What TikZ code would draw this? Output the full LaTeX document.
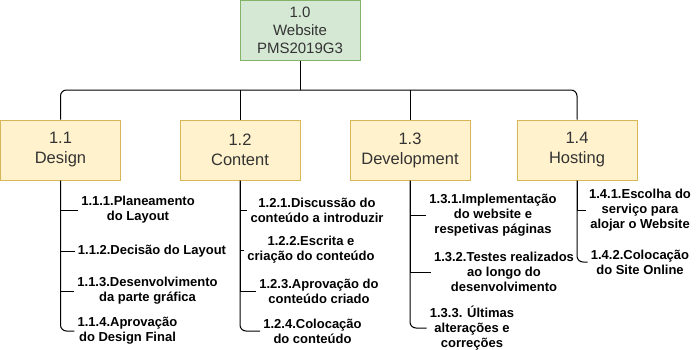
\documentclass[tikz,border=0pt]{standalone}
\usepackage{fontspec}
\setmainfont{Liberation Sans}

\definecolor{rootfill}{HTML}{D5E8D4}
\definecolor{rootline}{HTML}{82B366}
\definecolor{taskfill}{HTML}{FFF2CC}
\definecolor{taskline}{HTML}{D6B656}
\definecolor{boxtext}{HTML}{333333}

\tikzset{
    rootbox/.style={rectangle, draw=rootline, fill=rootfill, line width=1pt,
        minimum width=120pt, minimum height=60pt, align=center, text=boxtext,
        font=\fontsize{15}{18}\selectfont},
    taskbox/.style={rectangle, draw=taskline, fill=taskfill, line width=1pt,
        minimum width=120pt, minimum height=60pt, align=center, text=boxtext,
        font=\fontsize{16.5}{20}\selectfont},
    item/.style={align=center, inner xsep=3pt, inner ysep=0pt,
        font=\bfseries\fontsize{13}{15}\selectfont},
    link/.style={black, line width=1pt},
    lastlink/.style={link, rounded corners=6pt}
}

\begin{document}
\begin{tikzpicture}[x=1pt, y=-1pt]
    \useasboundingbox (0,0) rectangle (698,349);

    \node[rootbox] (W) at (300,30) {1.0\\Website\\PMS2019G3};

    \node[taskbox] (D) at (60.5,150) {1.1\\Design};
    \node[taskbox] (C) at (240,150) {1.2\\Content};
    \node[taskbox] (V) at (410,150) {1.3\\Development};
    \node[taskbox] (H) at (577,150) {1.4\\Hosting};

    % bus between the root and the four work packages
    \coordinate (bus) at (300,90);
    \draw[link] (W) -- (bus);
    \draw[lastlink] (bus) -| (D.north);
    \draw[link] (C.north) -- (C.north |- bus);
    \draw[link] (V.north) -- (V.north |- bus);
    \draw[lastlink] (bus) -| (H.north);

    % 1.1 Design
    \node[item] (d1) at (138,210) {1.1.1.Planeamento\\do Layout};
    \node[item] (d2) at (152,251) {1.1.2.Decisão do Layout};
    \node[item] (d3) at (147.5,291) {1.1.3.Desenvolvimento\\da parte gráfica};
    \node[item] (d4) at (127.5,331) {1.1.4.Aprovação\\do Design Final};

    \draw[link] (D.south) |- (d1.west);
    \draw[link] (D.south) |- (d2.west);
    \draw[link] (D.south) |- (d3.west);
    \draw[lastlink] (D.south) |- (d4.west);

    % 1.2 Content
    \node[item] (c1) at (317,210) {1.2.1.Discussão do\\conteúdo a introduzir};
    \node[item] (c2) at (311,250) {1.2.2.Escrita e\\criação do conteúdo};
    \node[item] (c3) at (319,291) {1.2.3.Aprovação do\\conteúdo criado};
    \node[item] (c4) at (312.5,331) {1.2.4.Colocação\\do conteúdo};

    \draw[link] (C.south) |- (c1.west);
    \draw[link] (C.south) |- (c2.west);
    \draw[link] (C.south) |- (c3.west);
    \draw[lastlink] (C.south) |- (c4.west);

    % 1.3 Development
    \node[item] (v1) at (493,215) {1.3.1.Implementação\\do website e\\respetivas páginas};
    \node[item] (v2) at (504,272) {1.3.2.Testes realizados\\ao longo do\\desenvolvimento};
    \node[item] (v3) at (472,328) {1.3.3. Últimas\\alterações e\\correções};

    \draw[link] (V.south) |- (v1.west);
    \draw[link] (V.south) |- (v2.west);
    \draw[lastlink] (V.south) |- (v3.west);

    % 1.4 Hosting
    \node[item] (h1) at (640,210) {1.4.1.Escolha do\\serviço para\\alojar o Website};
    \node[item] (h2) at (640,262) {1.4.2.Colocação\\do Site Online};

    \draw[link] (H.south) |- (h1.west);
    \draw[lastlink] (H.south) |- (h2.west);
\end{tikzpicture}
\end{document}
